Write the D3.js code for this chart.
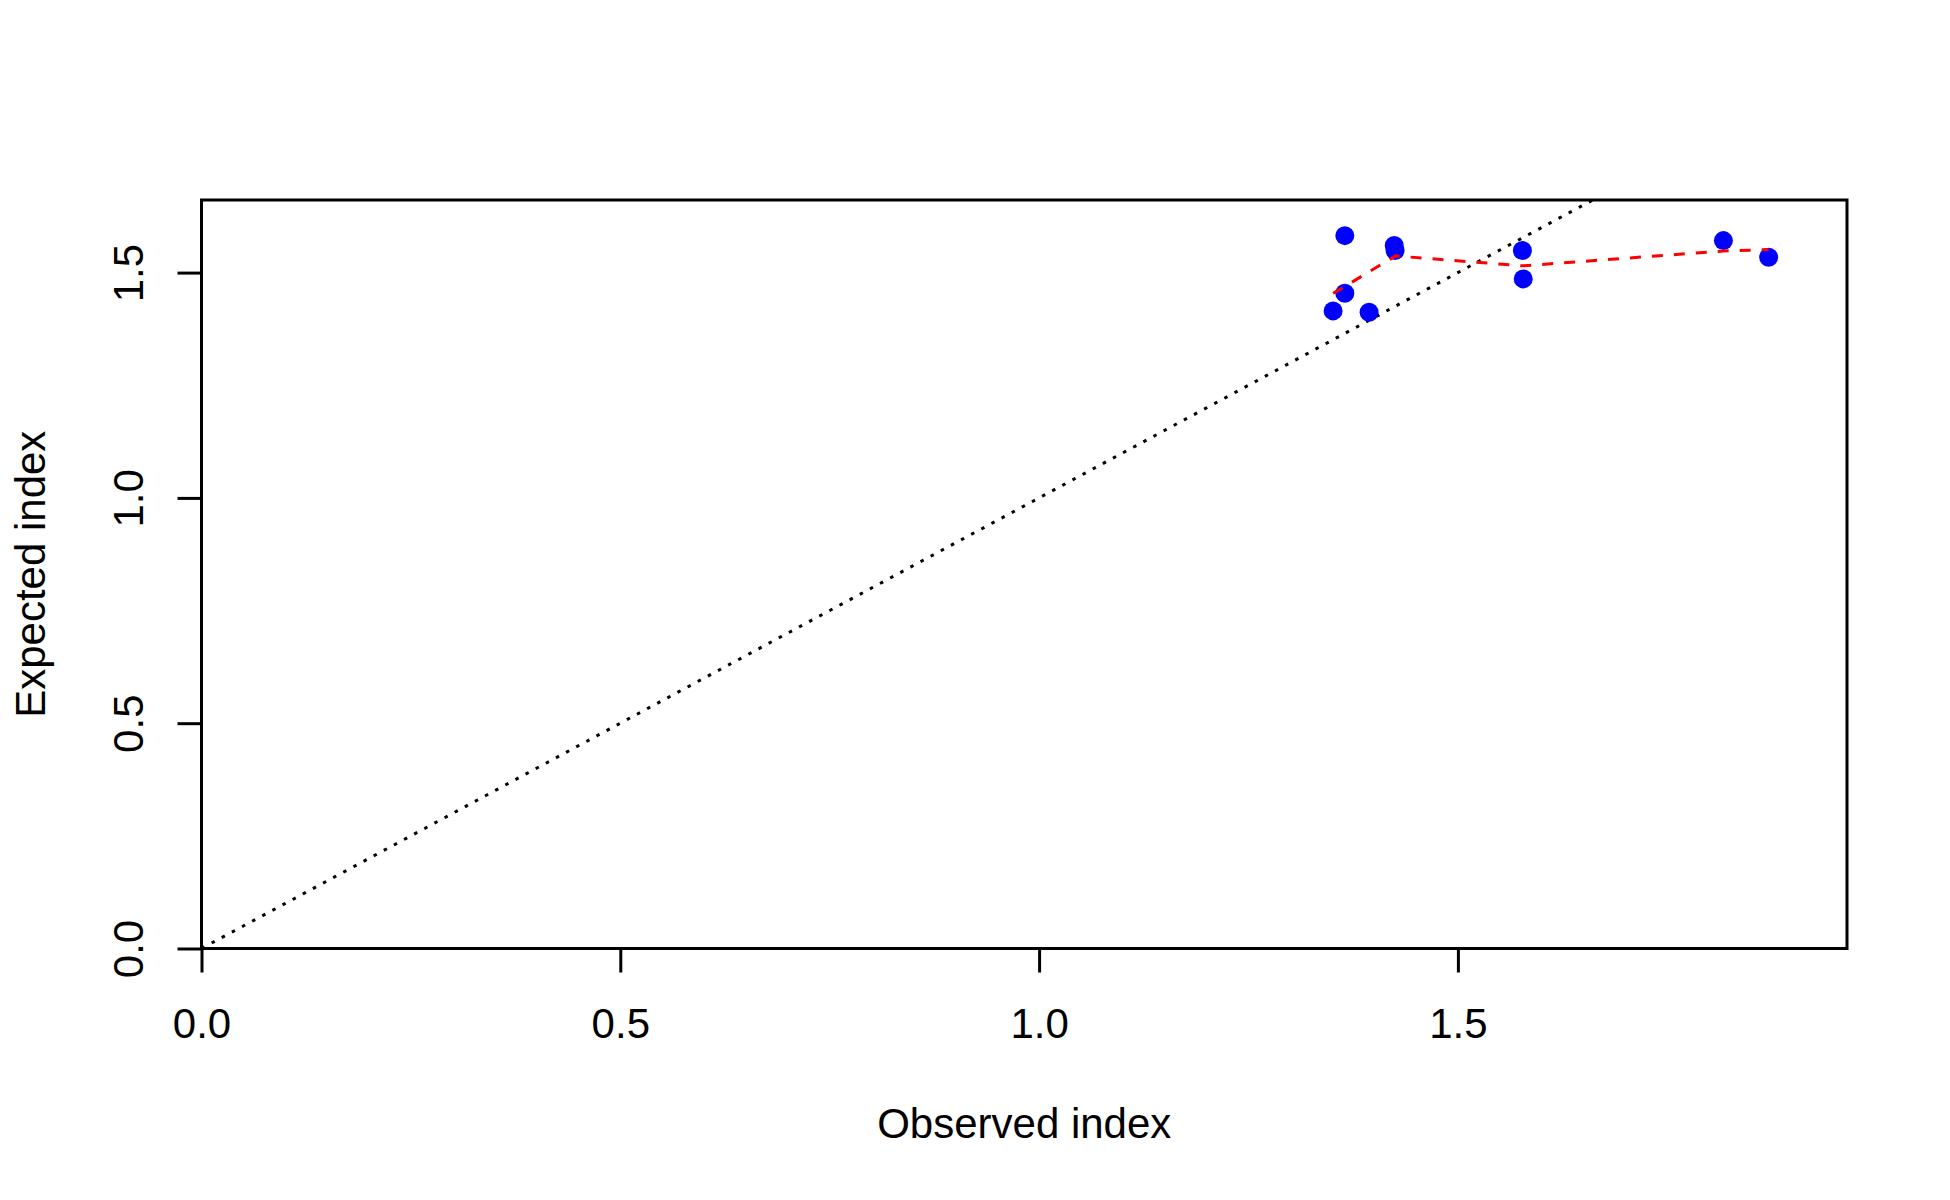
<html>
<head>
	<title>Observed vs expected index</title>
	<meta charset="utf-8">
	<script src="https://d3js.org/d3.v7.min.js"></script>
	<style>
		body { margin: 0; background: white; }
		text { font-family: "Liberation Sans", Arial, sans-serif; }
	</style>
</head>
<body>
	<script type="text/javascript">
		var width = 1950
		var height = 1200

		// values
		var observed = [1.351, 1.365, 1.365, 1.394, 1.424, 1.425, 1.577, 1.578, 1.817, 1.871]
		var expected = [1.415, 1.582, 1.454, 1.412, 1.560, 1.549, 1.549, 1.486, 1.571, 1.534]
		// smoothed fit (red dashed), one value per observed point
		var fitted   = [1.454, 1.469, 1.469, 1.502, 1.535, 1.537, 1.515, 1.515, 1.548, 1.551]
		var xTicks = [0, 0.5, 1.0, 1.5]
		var yTicks = [0, 0.5, 1.0, 1.5]
		var xLabel = "Observed index"
		var yLabel = "Expected index"

		var xMax = d3.max(observed) * 1.05
		var yMax = d3.max(expected) * 1.05

		var svg = d3.select("body").append("svg")
		  .attr("width", width)
		  .attr("height", height)

		var x = d3.scaleLinear().domain([0, xMax]).range([201.5, 1847])
		var y = d3.scaleLinear().domain([0, yMax]).range([948.5, 200])

		var lw = 3
		var fs = 42

		// 1:1 reference line, clipped to the plot box
		svg.append("clipPath").attr("id", "box")
		  .append("rect")
		    .attr("x", x(0)).attr("y", y(yMax))
		    .attr("width", x(xMax) - x(0)).attr("height", y(0) - y(yMax))

		var lim = Math.max(xMax, yMax)
		svg.append("line")
			.attr("clip-path", "url(#box)")
			.attr("x1", x(0)).attr("y1", y(0))
			.attr("x2", x(lim)).attr("y2", y(lim))
			.attr("stroke", "black")
			.attr("stroke-width", lw)
			.attr("stroke-dasharray", "3.5,8")

		// points
		var pts = observed.map(function(d, i) { return {x: d, y: expected[i], f: fitted[i]} })

		svg.selectAll("circle")
		  .data(pts)
		  .enter()
		  .append("circle")
		    .attr("cx", d => x(d.x))
		    .attr("cy", d => y(d.y))
		    .attr("r", 9.5)
		    .attr("fill", "blue")

		// smooth line
		var line = d3.line().x(d => x(d.x)).y(d => y(d.f))
		svg.append("path")
			.datum(pts)
			.attr("d", line)
			.attr("fill", "none")
			.attr("stroke", "red")
			.attr("stroke-width", lw)
			.attr("stroke-dasharray", "11,11")

		// box
		svg.append("rect")
			.attr("x", x(0)).attr("y", y(yMax))
			.attr("width", x(xMax) - x(0)).attr("height", y(0) - y(yMax))
			.attr("fill", "none")
			.attr("stroke", "black")
			.attr("stroke-width", lw)

		// axes
		var xAxis = svg.append("g")
			.attr("transform", "translate(0," + y(0) + ")")
			.call(d3.axisBottom(x).tickValues(xTicks).tickFormat(d3.format(".1f")).tickSize(24).tickPadding(36))
		var yAxis = svg.append("g")
			.attr("transform", "translate(" + x(0) + ",0)")
			.call(d3.axisLeft(y).tickValues(yTicks).tickFormat(d3.format(".1f")).tickSize(24).tickPadding(0))

		svg.selectAll(".domain").remove()
		svg.selectAll(".tick line").attr("stroke", "black").attr("stroke-width", lw)
		xAxis.selectAll("text")
			.attr("font-size", fs)
			.attr("fill", "black")
			.attr("font-family", "Liberation Sans, Arial, sans-serif")
		yAxis.selectAll("text")
			.attr("font-size", fs)
			.attr("fill", "black")
			.attr("font-family", "Liberation Sans, Arial, sans-serif")
			.attr("text-anchor", "middle")
			.attr("dy", "0")
			.attr("x", 0)
			.attr("transform", "translate(" + (-x(0) + 143) + ",0) rotate(-90)")

		// axis line from first to last tick, as R draws it
		svg.append("line")
			.attr("x1", x(xTicks[0])).attr("x2", x(xTicks[xTicks.length - 1]))
			.attr("y1", y(0)).attr("y2", y(0))
			.attr("stroke", "black").attr("stroke-width", lw)
		svg.append("line")
			.attr("x1", x(0)).attr("x2", x(0))
			.attr("y1", y(yTicks[0])).attr("y2", y(yTicks[yTicks.length - 1]))
			.attr("stroke", "black").attr("stroke-width", lw)

		// titles
		svg.append("text")
			.attr("x", (x(0) + x(xMax)) / 2)
			.attr("y", 1138)
			.attr("text-anchor", "middle")
			.attr("font-size", fs)
			.text(xLabel)

		svg.append("text")
			.attr("transform", "translate(45," + (y(0) + y(yMax)) / 2 + ") rotate(-90)")
			.attr("text-anchor", "middle")
			.attr("font-size", fs)
			.text(yLabel)
	</script>
</body>
</html>
